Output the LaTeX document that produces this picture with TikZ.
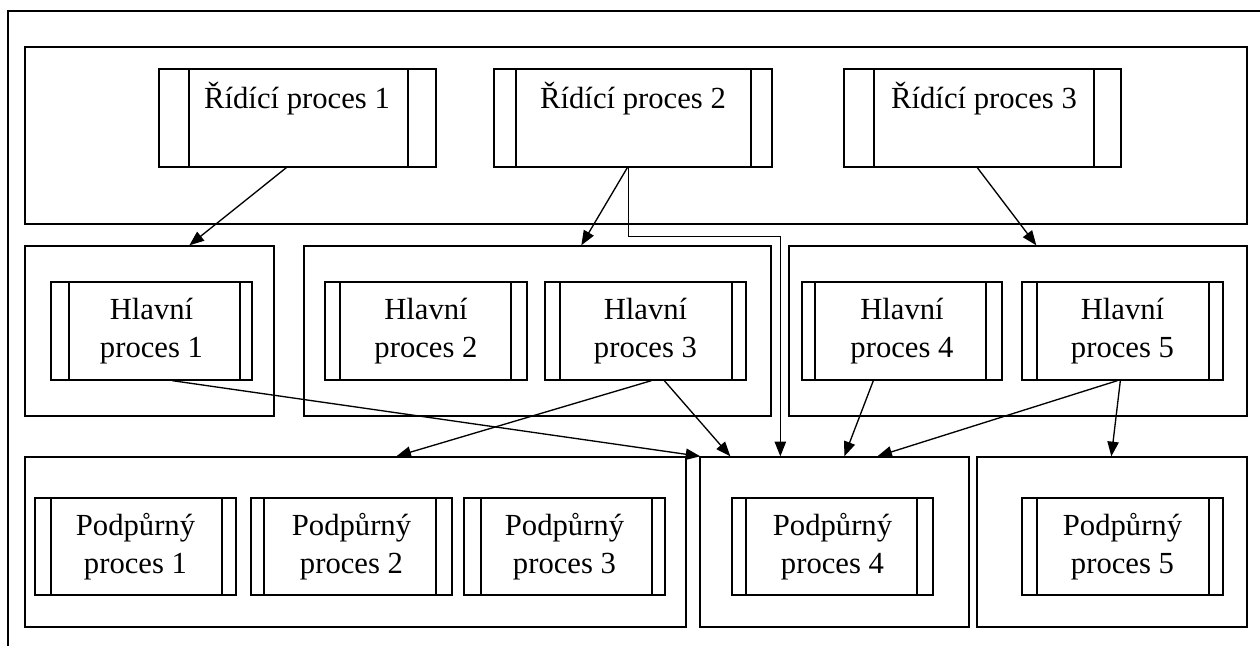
\documentclass[tikz,border=0pt]{standalone}
\usepackage{fontspec}
\setmainfont{Liberation Serif}
\usetikzlibrary{calc,fit,arrows.meta}

% process box: name, outer left, inner left, inner right, outer right, top, bottom
\newcommand\procbox[7]{%
  \node[procshape, fit={(#2,#6) (#5,#7)}] (#1) {};
  \draw (#3,#6) -- (#3,#7) (#4,#6) -- (#4,#7);
}

\begin{document}
\begin{tikzpicture}[x=0.75pt,y=-0.75pt,
  line width=1pt,
  groupbox/.style={draw, inner sep=0pt},
  procshape/.style={draw, inner sep=0pt},
  lbl/.style={font=\fontsize{23}{29}\selectfont, align=center, inner sep=0pt},
  conn/.style={-{Triangle[length=11pt,width=8.5pt]}},
]
\useasboundingbox (0,0) rectangle (1260,646);

% page frame (top and left edges)
\draw (8,660) -- (8,11) -- (1270,11);

% group containers
\node[groupbox, fit={(25,47) (1247,224)}] (gR) {};
\node[groupbox, fit={(25,246) (274,416)}] (gH1) {};
\node[groupbox, fit={(304,246) (771,416)}] (gH2) {};
\node[groupbox, fit={(789,246) (1247,416)}] (gH3) {};
\node[groupbox, fit={(25,457) (686,627)}] (gP1) {};
\node[groupbox, fit={(700,457) (969,627)}] (gP2) {};
\node[groupbox, fit={(977,457) (1247,627)}] (gP3) {};

% control processes
\procbox{r1}{159}{189}{408}{436}{69}{167}
\procbox{r2}{494}{516}{751}{772}{69}{167}
\procbox{r3}{844}{874}{1094}{1121}{69}{167}
\node[lbl, anchor=base] (r1t) at (297,108) {Řídící proces 1};
\node[lbl, anchor=base] (r2t) at (633,108) {Řídící proces 2};
\node[lbl, anchor=base] (r3t) at (984,108) {Řídící proces 3};

% main processes
\procbox{h1}{51}{69}{240}{252}{282}{380}
\procbox{h2}{325}{340}{511}{527}{282}{380}
\procbox{h3}{545}{560}{732}{746}{282}{380}
\procbox{h4}{802}{815}{986}{1002}{282}{380}
\procbox{h5}{1022}{1037}{1209}{1223}{282}{380}
\node[lbl] (h1t) at (h1) {Hlavní\\proces 1};
\node[lbl] (h2t) at (h2) {Hlavní\\proces 2};
\node[lbl] (h3t) at (h3) {Hlavní\\proces 3};
\node[lbl] (h4t) at (h4) {Hlavní\\proces 4};
\node[lbl] (h5t) at (h5) {Hlavní\\proces 5};

% support processes
\procbox{p1}{35}{51}{222}{236}{498}{595}
\procbox{p2}{251}{264}{436}{452}{498}{595}
\procbox{p3}{464}{481}{652}{665}{498}{595}
\procbox{p4}{732}{746}{917}{933}{498}{595}
\procbox{p5}{1022}{1037}{1209}{1223}{498}{595}
\node[lbl] (p1t) at (p1) {Podpůrný\\proces 1};
\node[lbl] (p2t) at (p2) {Podpůrný\\proces 2};
\node[lbl] (p3t) at (p3) {Podpůrný\\proces 3};
\node[lbl] (p4t) at (p4) {Podpůrný\\proces 4};
\node[lbl] (p5t) at (p5) {Podpůrný\\proces 5};

% connectors
\draw[conn] ($(r1.south west)+(128,0)$) -- ($(gH1.north west)+(165,0)$);
\draw[conn] ($(r2.south west)+(134,0)$) -- ($(gH2.north west)+(278,0)$);
\draw[conn] ($(r2.south west)+(135,0)$) -- ++(0,69) -| ($(gP2.north west)+(81,0)$);
\draw[conn] ($(r3.south west)+(134,0)$) -- ($(gH3.north west)+(248,0)$);
\draw[conn] ($(h1.south west)+(122,0)$) -- ($(gP2.north west)+(1,0)$);
\draw[conn] ($(h3.south west)+(107,0)$) -- ($(gP1.north west)+(372,0)$);
\draw[conn] ($(h3.south west)+(120,0)$) -- ($(gP2.north west)+(31,0)$);
\draw[conn] ($(h4.south west)+(72,0)$) -- ($(gP2.north west)+(145,0)$);
\draw[conn] ($(h5.south west)+(96,0)$) -- ($(gP2.north west)+(178,0)$);
\draw[conn] ($(h5.south west)+(99,0)$) -- ($(gP3.north west)+(135,0)$);
\end{tikzpicture}
\end{document}
